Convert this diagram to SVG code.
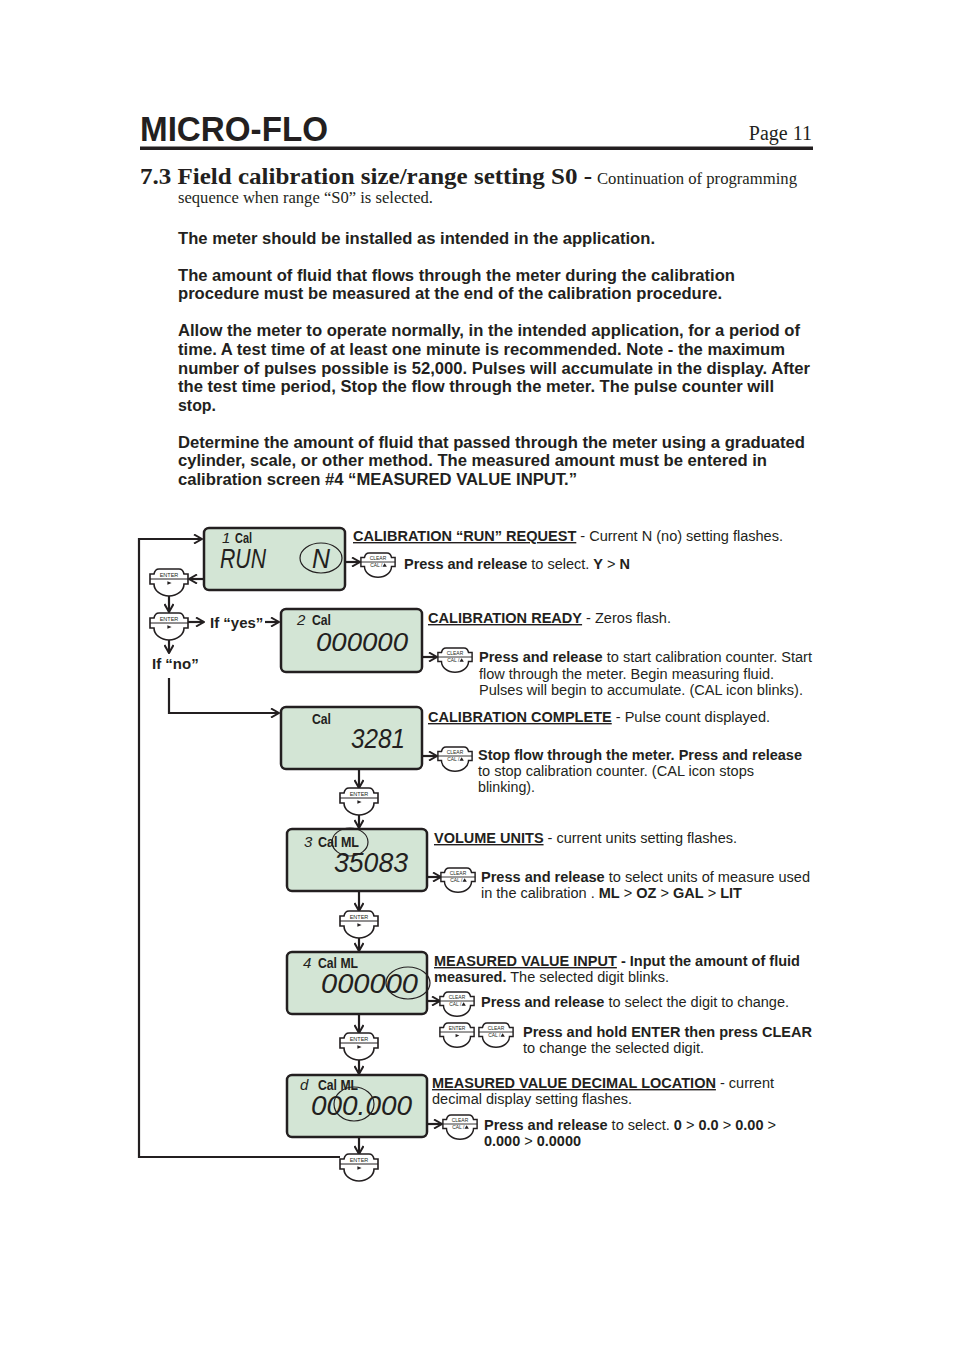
<svg xmlns="http://www.w3.org/2000/svg" width="954" height="1349" viewBox="0 0 954 1349">
<style>
.bg{fill:#ffffff}
.t{font-family:"Liberation Sans",Arial,sans-serif;fill:#231f20}
.b{font-weight:bold}
.p{font-size:16px;font-weight:bold}
.d{font-size:14px}
.u{text-decoration:underline}
.tm{font-family:"Liberation Serif","Times New Roman",serif;fill:#231f20}
.lcd{fill:#d3e5d5;stroke:#231f20;stroke-width:2.5}
.seg{font-family:"Liberation Sans",Arial,sans-serif;font-style:italic;fill:#231f20}
.cal{font-family:"Liberation Sans Narrow","Liberation Sans",Arial,sans-serif;font-weight:bold;font-size:15px;fill:#231f20}
.ring{fill:none;stroke:#231f20;stroke-width:1.2}
.ln{fill:none;stroke:#231f20;stroke-width:2.2}
.btn{fill:#ffffff;stroke:#231f20;stroke-width:1.6}
.bt{font-family:"Liberation Sans",Arial,sans-serif;font-size:5.5px;fill:#231f20}
</style>
<defs>
<marker id="ah" viewBox="0 0 10 10" refX="9" refY="5" markerWidth="10" markerHeight="10" markerUnits="userSpaceOnUse" orient="auto">
<path d="M1,0.5 L9,5 L1,9.5" fill="none" stroke="#231f20" stroke-width="2"/>
</marker>
<g id="shape">
<path class="btn" d="M-19,-5 H-15 Q-14,-10 -10,-10 H10 Q14,-10 15,-5 H19 V5 H15 A15 12 0 0 1 -15,5 H-19 Z"/>
<path d="M-19,0 H19" stroke="#231f20" stroke-width="1"/>
</g>
<g id="enter">
<use href="#shape"/>
<text class="bt" x="0" y="-2" text-anchor="middle">ENTER</text>
<path d="M-1.6,2.2 L2.6,4 L-1.6,5.8 Z" fill="#231f20"/>
</g>
<g id="clear">
<use href="#shape"/>
<text class="bt" x="0" y="-2" text-anchor="middle">CLEAR</text>
<text class="bt" x="-2" y="5.6" text-anchor="middle">CAL /</text>
<path d="M5,5.4 L7.4,1.4 L9.8,5.4 Z" fill="#231f20"/>
</g>
</defs>
<rect class="bg" x="0" y="0" width="954" height="1349"/>

<g id="header">
<text class="t b" x="140" y="141" font-size="35" textLength="188" lengthAdjust="spacingAndGlyphs">MICRO-FLO</text>
<text class="tm" x="812" y="140" font-size="20" text-anchor="end">Page 11</text>
<rect x="140" y="146.5" width="673" height="3.5" fill="#231f20"/>
<text class="tm" x="140" y="184" font-size="24" font-weight="bold" textLength="452" lengthAdjust="spacingAndGlyphs">7.3 Field calibration size/range setting S0 -</text>
<text class="tm" x="597" y="184" font-size="16" textLength="200" lengthAdjust="spacingAndGlyphs">Continuation of programming</text>
<text class="tm" x="178" y="203" font-size="16" textLength="255" lengthAdjust="spacingAndGlyphs">sequence when range “S0” is selected.</text>
</g>

<g id="intro">
<text class="t p" x="178" y="244" textLength="477" lengthAdjust="spacingAndGlyphs">The meter should be installed as intended in the application.</text>
<text class="t p" x="178" y="281" textLength="557" lengthAdjust="spacingAndGlyphs">The amount of fluid that flows through the meter during the calibration</text>
<text class="t p" x="178" y="299" textLength="544" lengthAdjust="spacingAndGlyphs">procedure must be measured at the end of the calibration procedure.</text>
<text class="t p" x="178" y="336" textLength="622" lengthAdjust="spacingAndGlyphs">Allow the meter to operate normally, in the intended application, for a period of</text>
<text class="t p" x="178" y="355" textLength="607" lengthAdjust="spacingAndGlyphs">time. A test time of at least one minute is recommended. Note - the maximum</text>
<text class="t p" x="178" y="374" textLength="632" lengthAdjust="spacingAndGlyphs">number of pulses possible is 52,000. Pulses will accumulate in the display. After</text>
<text class="t p" x="178" y="392" textLength="596" lengthAdjust="spacingAndGlyphs">the test time period, Stop the flow through the meter. The pulse counter will</text>
<text class="t p" x="178" y="411" textLength="38" lengthAdjust="spacingAndGlyphs">stop.</text>
<text class="t p" x="178" y="448" textLength="627" lengthAdjust="spacingAndGlyphs">Determine the amount of fluid that passed through the meter using a graduated</text>
<text class="t p" x="178" y="466" textLength="589" lengthAdjust="spacingAndGlyphs">cylinder, scale, or other method. The measured amount must be entered in</text>
<text class="t p" x="178" y="485" textLength="399" lengthAdjust="spacingAndGlyphs">calibration screen #4 “MEASURED VALUE INPUT.”</text>
</g>

<g id="connectors">
<path class="ln" d="M340,1157 H139 V539 H202" marker-end="url(#ah)"/>
<path class="ln" d="M203,579 H189" marker-end="url(#ah)"/>
<path class="ln" d="M169,596 V612" marker-end="url(#ah)"/>
<path class="ln" d="M188,622 H204" marker-end="url(#ah)"/>
<path class="ln" d="M265,622 H279" marker-end="url(#ah)"/>
<path class="ln" d="M169,640 V653" marker-end="url(#ah)"/>
<path class="ln" d="M169,678 V713 H279" marker-end="url(#ah)"/>
<path class="ln" d="M345,562 H360" marker-end="url(#ah)"/>
<path class="ln" d="M422,657 H437" marker-end="url(#ah)"/>
<path class="ln" d="M422,756 H437" marker-end="url(#ah)"/>
<path class="ln" d="M427,877 H441" marker-end="url(#ah)"/>
<path class="ln" d="M427,1001 H440" marker-end="url(#ah)"/>
<path class="ln" d="M427,1124 H442" marker-end="url(#ah)"/>
<path class="ln" d="M359,769 V788" marker-end="url(#ah)"/>
<path class="ln" d="M359,815 V828" marker-end="url(#ah)"/>
<path class="ln" d="M359,892 V911" marker-end="url(#ah)"/>
<path class="ln" d="M359,938 V951" marker-end="url(#ah)"/>
<path class="ln" d="M359,1014 V1033" marker-end="url(#ah)"/>
<path class="ln" d="M359,1060 V1074" marker-end="url(#ah)"/>
<path class="ln" d="M359,1137 V1154" marker-end="url(#ah)"/>
</g>

<g id="btn-enter-1"><use href="#enter" transform="translate(169,579)"/></g>
<g id="btn-enter-2"><use href="#enter" transform="translate(169,623)"/></g>
<g id="btn-enter-3"><use href="#enter" transform="translate(359,798)"/></g>
<g id="btn-enter-4"><use href="#enter" transform="translate(359,921)"/></g>
<g id="btn-enter-5"><use href="#enter" transform="translate(359,1043)"/></g>
<g id="btn-enter-6"><use href="#enter" transform="translate(359,1164)"/></g>
<g id="btn-clear-1"><use href="#clear" transform="translate(378,562) scale(0.9)"/></g>
<g id="btn-clear-2"><use href="#clear" transform="translate(455,657) scale(0.9)"/></g>
<g id="btn-clear-3"><use href="#clear" transform="translate(455,756) scale(0.9)"/></g>
<g id="btn-clear-4"><use href="#clear" transform="translate(458,877) scale(0.9)"/></g>
<g id="btn-clear-5"><use href="#clear" transform="translate(457,1001) scale(0.9)"/></g>
<g id="btn-enter-7"><use href="#enter" transform="translate(457,1032) scale(0.9)"/></g>
<g id="btn-clear-6"><use href="#clear" transform="translate(496,1032) scale(0.9)"/></g>
<g id="btn-clear-7"><use href="#clear" transform="translate(460,1124) scale(0.9)"/></g>

<g id="labels-left">
<text class="t b" x="210" y="628" font-size="15">If “yes”</text>
<text class="t b" x="152" y="669" font-size="15">If “no”</text>
</g>

<g id="display-1">
<rect class="lcd" x="204" y="528" width="141" height="62" rx="5"/>
<text class="seg" x="222" y="543" font-size="15">1</text>
<text class="cal" x="235" y="543" textLength="17" lengthAdjust="spacingAndGlyphs">Cal</text>
<text class="seg" x="220" y="568" font-size="27" textLength="46" lengthAdjust="spacingAndGlyphs">RUN</text>
<text class="seg" x="312" y="568" font-size="27" textLength="18" lengthAdjust="spacingAndGlyphs">N</text>
<ellipse class="ring" cx="321" cy="558" rx="21" ry="15"/>
</g>
<g id="display-2">
<rect class="lcd" x="281" y="609" width="141" height="63" rx="5"/>
<text class="seg" x="297" y="625" font-size="15">2</text>
<text class="cal" x="312" y="625" textLength="19" lengthAdjust="spacingAndGlyphs">Cal</text>
<text class="seg" x="316" y="651" font-size="26" textLength="92" lengthAdjust="spacingAndGlyphs">000000</text>
</g>
<g id="display-3">
<rect class="lcd" x="281" y="707" width="141" height="62" rx="5"/>
<text class="cal" x="312" y="724" textLength="19" lengthAdjust="spacingAndGlyphs">Cal</text>
<text class="seg" x="351" y="748" font-size="27" textLength="54" lengthAdjust="spacingAndGlyphs">3281</text>
</g>
<g id="display-4">
<rect class="lcd" x="287" y="829" width="140" height="62" rx="5"/>
<text class="seg" x="304" y="847" font-size="15">3</text>
<text class="cal" x="318" y="847" textLength="41" lengthAdjust="spacingAndGlyphs">Cal ML</text>
<text class="seg" x="334" y="872" font-size="27" textLength="74" lengthAdjust="spacingAndGlyphs">35083</text>
<ellipse class="ring" cx="350" cy="842" rx="18" ry="14"/>
</g>
<g id="display-5">
<rect class="lcd" x="287" y="952" width="140" height="62" rx="5"/>
<text class="seg" x="303" y="968" font-size="15">4</text>
<text class="cal" x="318" y="968" textLength="40" lengthAdjust="spacingAndGlyphs">Cal ML</text>
<text class="seg" x="321" y="993" font-size="27" textLength="97" lengthAdjust="spacingAndGlyphs">000000</text>
<ellipse class="ring" cx="408" cy="983" rx="22" ry="16"/>
</g>
<g id="display-6">
<rect class="lcd" x="287" y="1075" width="140" height="62" rx="5"/>
<text class="seg" x="300" y="1090" font-size="15">d</text>
<text class="cal" x="318" y="1090" textLength="40" lengthAdjust="spacingAndGlyphs">Cal ML</text>
<text class="seg" x="311" y="1115" font-size="27" textLength="101" lengthAdjust="spacingAndGlyphs">000.000</text>
<ellipse class="ring" cx="354" cy="1104" rx="20" ry="17"/>
</g>

<g id="text-1">
<text class="t d" x="353" y="541" textLength="430" lengthAdjust="spacingAndGlyphs"><tspan class="b u">CALIBRATION “RUN” REQUEST</tspan> - Current N (no) setting flashes.</text>
<text class="t d" x="404" y="569" textLength="226" lengthAdjust="spacingAndGlyphs"><tspan class="b">Press and release</tspan> to select. <tspan class="b">Y</tspan> &gt; <tspan class="b">N</tspan></text>
</g>
<g id="text-2">
<text class="t d" x="428" y="623" textLength="243" lengthAdjust="spacingAndGlyphs"><tspan class="b u">CALIBRATION READY</tspan> - Zeros flash.</text>
<text class="t d" x="479" y="662" textLength="333" lengthAdjust="spacingAndGlyphs"><tspan class="b">Press and release</tspan> to start calibration counter. Start</text>
<text class="t d" x="479" y="679" textLength="295" lengthAdjust="spacingAndGlyphs">flow through the meter. Begin measuring fluid.</text>
<text class="t d" x="479" y="695" textLength="324" lengthAdjust="spacingAndGlyphs">Pulses will begin to accumulate. (CAL icon blinks).</text>
</g>
<g id="text-3">
<text class="t d" x="428" y="722" textLength="342" lengthAdjust="spacingAndGlyphs"><tspan class="b u">CALIBRATION COMPLETE</tspan> - Pulse count displayed.</text>
<text class="t d b" x="478" y="760" textLength="324" lengthAdjust="spacingAndGlyphs">Stop flow through the meter. Press and release</text>
<text class="t d" x="478" y="776" textLength="276" lengthAdjust="spacingAndGlyphs">to stop calibration counter. (CAL icon stops</text>
<text class="t d" x="478" y="792" textLength="57" lengthAdjust="spacingAndGlyphs">blinking).</text>
</g>
<g id="text-4">
<text class="t d" x="434" y="843" textLength="303" lengthAdjust="spacingAndGlyphs"><tspan class="b u">VOLUME UNITS</tspan> - current units setting flashes.</text>
<text class="t d" x="481" y="882" textLength="329" lengthAdjust="spacingAndGlyphs"><tspan class="b">Press and release</tspan> to select units of measure used</text>
<text class="t d" x="481" y="898" textLength="261" lengthAdjust="spacingAndGlyphs">in the calibration . <tspan class="b">ML</tspan> &gt; <tspan class="b">OZ</tspan> &gt; <tspan class="b">GAL</tspan> &gt; <tspan class="b">LIT</tspan></text>
</g>
<g id="text-5">
<text class="t d b" x="434" y="966" textLength="366" lengthAdjust="spacingAndGlyphs"><tspan class="u">MEASURED VALUE INPUT</tspan> - Input the amount of fluid</text>
<text class="t d" x="434" y="982" textLength="235" lengthAdjust="spacingAndGlyphs"><tspan class="b">measured.</tspan> The selected digit blinks.</text>
<text class="t d" x="481" y="1007" textLength="308" lengthAdjust="spacingAndGlyphs"><tspan class="b">Press and release</tspan> to select the digit to change.</text>
<text class="t d b" x="523" y="1037" textLength="289" lengthAdjust="spacingAndGlyphs">Press and hold ENTER then press CLEAR</text>
<text class="t d" x="523" y="1053" textLength="181" lengthAdjust="spacingAndGlyphs">to change the selected digit.</text>
</g>
<g id="text-6">
<text class="t d" x="432" y="1088" textLength="342" lengthAdjust="spacingAndGlyphs"><tspan class="b u">MEASURED VALUE DECIMAL LOCATION</tspan> - current</text>
<text class="t d" x="432" y="1104" textLength="200" lengthAdjust="spacingAndGlyphs">decimal display setting flashes.</text>
<text class="t d" x="484" y="1130" textLength="292" lengthAdjust="spacingAndGlyphs"><tspan class="b">Press and release</tspan> to select. <tspan class="b">0</tspan> &gt; <tspan class="b">0.0</tspan> &gt; <tspan class="b">0.00</tspan> &gt;</text>
<text class="t d b" x="484" y="1146" textLength="97" lengthAdjust="spacingAndGlyphs">0.000 <tspan font-weight="normal">&gt;</tspan> 0.0000</text>
</g>
</svg>
